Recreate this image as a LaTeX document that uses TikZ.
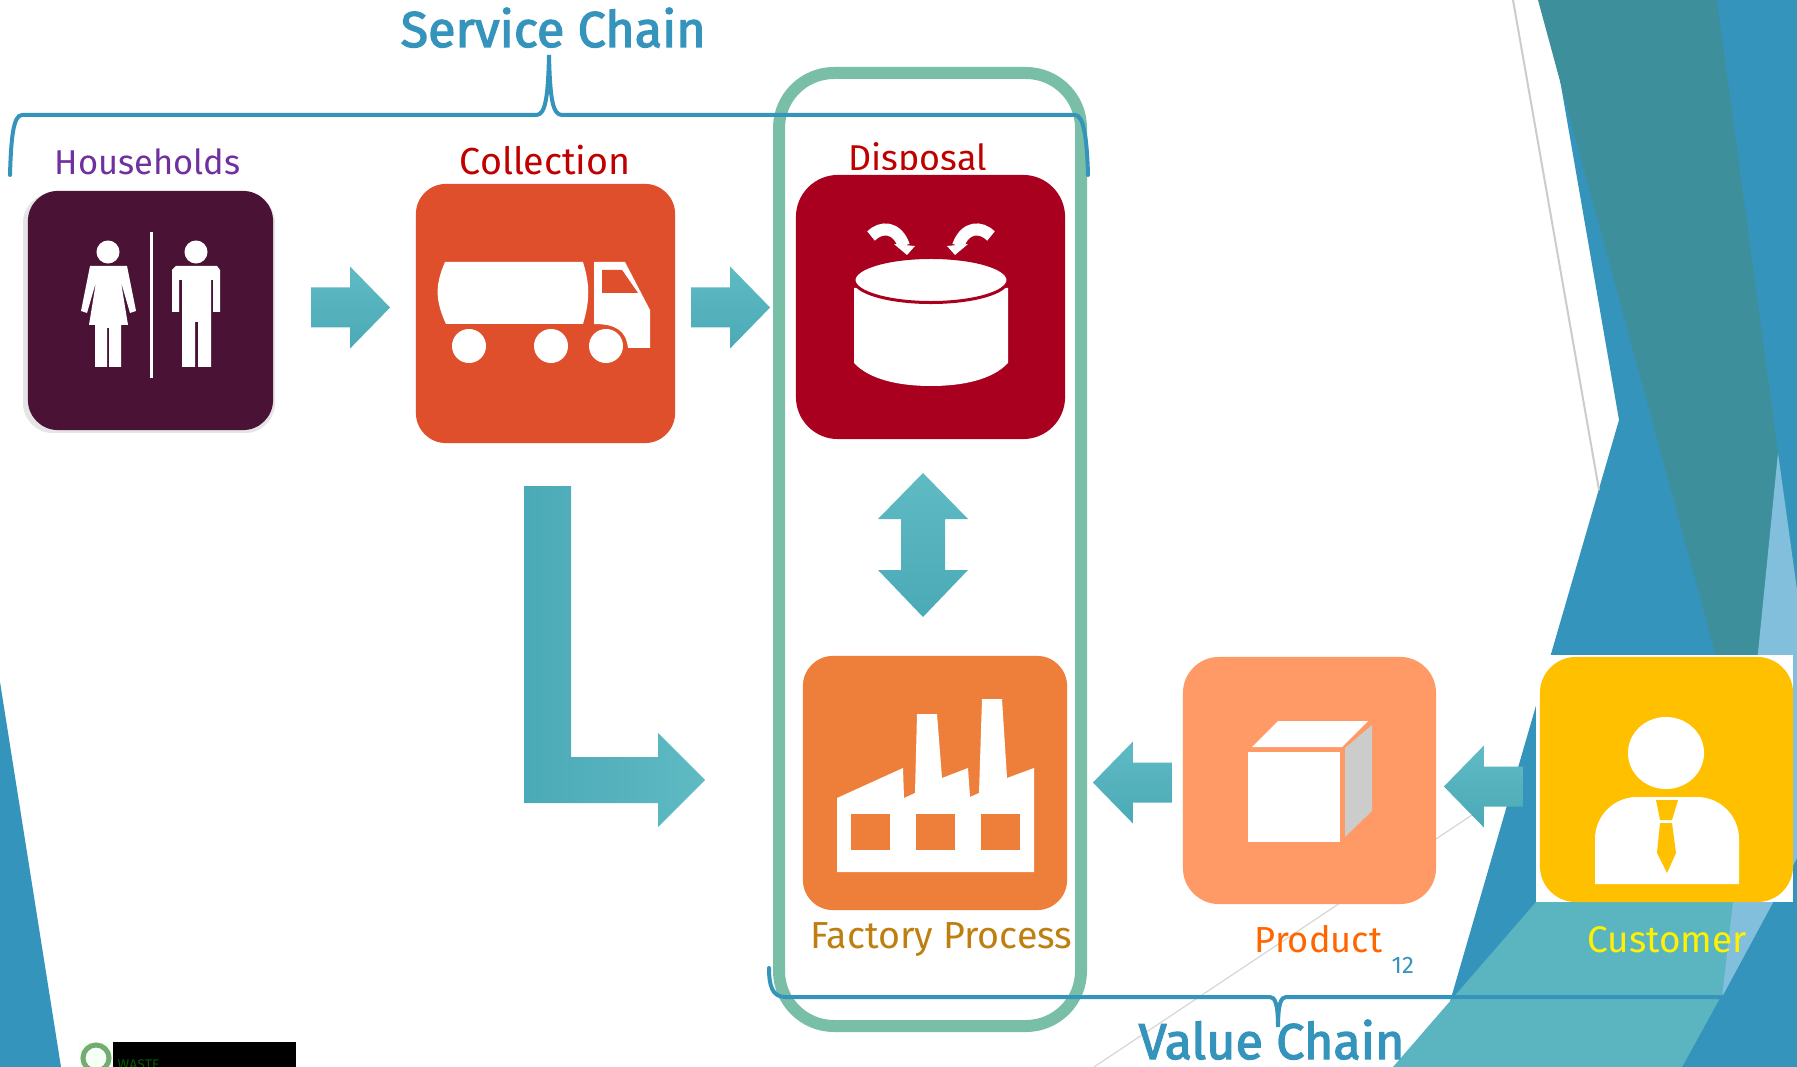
\documentclass[tikz,border=0pt]{standalone}
\usepackage{fontspec}
\setmainfont{Fira Sans}
\newfontfamily\chainfont[FakeBold=2.5]{Fira Sans}
\usetikzlibrary{calc}

\definecolor{chainblue}{HTML}{3594BC}
\definecolor{deepteal}{HTML}{3E8F9C}
\definecolor{paleblue}{HTML}{82BFDC}
\definecolor{softteal}{HTML}{5AB5C1}
\definecolor{framegreen}{HTML}{79BFA8}
\definecolor{plumbox}{HTML}{4A1336}
\definecolor{truckbox}{HTML}{E04F2B}
\definecolor{binbox}{HTML}{A8001E}
\definecolor{millbox}{HTML}{ED7F3B}
\definecolor{cratebox}{HTML}{FF9966}
\definecolor{buyerbox}{HTML}{FFC000}
\definecolor{blockteal}{HTML}{4BAAB7}
\definecolor{blocktop}{HTML}{5FBAC3}
\definecolor{lblpurple}{HTML}{7030A0}
\definecolor{lblred}{HTML}{C00000}
\definecolor{lblochre}{HTML}{BF7F10}
\definecolor{lblorange}{HTML}{FF6600}

\tikzset{
  iconbox/.style={rounded corners=#1,inner sep=0pt,outer sep=0pt},
  iconbox/.default=.3cm,
  lbl/.style={anchor=base west,inner sep=0pt},
  lblsmall/.style={lbl,font=\fontsize{#1}{12}\selectfont},
  lblbig/.style={lbl,font=\fontsize{14.3}{16}\chainfont,text=chainblue},
  arrowshade/.style={top color=blocktop,bottom color=blockteal},
  brace/.style={chainblue,line width=.04cm,line cap=round},
}

\begin{document}
\begin{tikzpicture}[x=.01cm,y=-.01cm]
\path[use as bounding box,clip] (0,0) rectangle (1797,1067);
\fill[white] (0,0) rectangle (1797,1067);

\fill[chainblue] (1560,80) -- (1619,420) -- (1431,1067) -- (1797,1067) -- (1797,0) -- (1600,0) -- cycle;
\fill[deepteal] (1538,0) -- (1717,0) -- (1778,453) -- (1758,660) -- (1717,660) -- cycle;
\fill[softteal] (1536,902) -- (1393,1067) -- (1682,1067) -- (1773,902) -- cycle;
\fill[paleblue] (1778,453) -- (1797,590) -- (1797,858) -- (1722,997) -- (1733,902) -- cycle;
\fill[chainblue] (0,682) -- (61,1067) -- (0,1067) -- cycle;
\draw[black!20,line width=.02cm] (1513,0) -- (1599,490);
\draw[black!16,line width=.012cm] (1094,1067) -- (1478,811);

\fill[black] (113,1042) rectangle (296,1067);
\fill[green!4] (79,1042) rectangle (113,1067);
\draw[green!40!black!55,line width=.05cm] (96,1058) circle [radius=.13cm];
\node[lbl,text=green!35!black,font=\fontsize{4}{5}\selectfont] (logotext) at (117,1069) {WASTE};

\draw[framegreen,line width=.12cm,rounded corners=.55cm] (779,73) rectangle (1081,1026);

\node[lblbig] (servicelbl) at (400,47) {Service Chain};
\node[lblsmall=9.8,text=lblpurple] (householdslbl) at (54,175) {Households};
\node[lblsmall=10.7,text=lblred] (collectionlbl) at (459,175) {Collection};
\node[lblsmall=10.2,text=lblred] (disposallbl) at (848,171) {Disposal};

\fill[black!10,rounded corners=.3cm] (23,193) rectangle (275,433);
\node[iconbox,fill=plumbox,minimum width=2.45cm,minimum height=2.39cm] (households) at (150.5,310.5) {};
\fill[white] (108,252) circle [radius=.115cm];
\fill[white] (196,252) circle [radius=.115cm];
\fill[white] (150,232) rectangle (153,378);
\fill[white] (90,266) -- (127,266) -- (136,311) -- (130,313) -- (121,282) -- (128,325) -- (121,325) -- (121,367) -- (109,367) -- (109,328) -- (107,328) -- (107,367) -- (95,367) -- (95,325) -- (89,325) -- (96,282) -- (87,313) -- (81,311) -- cycle;
\fill[white] (176,266) -- (217,266) -- (220,270) -- (220,312) -- (213,312) -- (213,280) -- (211,280) -- (211,367) -- (198,367) -- (198,322) -- (195,322) -- (195,367) -- (182,367) -- (182,280) -- (179,280) -- (179,312) -- (172,312) -- (172,270) -- cycle;

\node[iconbox,fill=truckbox,minimum width=2.59cm,minimum height=2.59cm] (collection) at (545.5,313.5) {};
\fill[white] (445,262) -- (583,262) .. controls (590,285) and (590,300) .. (583,324) -- (446,324) .. controls (435,300) and (435,285) .. (445,262) -- cycle;
\fill[white] (594,262) -- (625,262) -- (650,310) -- (650,348) -- (628,348) .. controls (626,330) and (615,324) .. (594,324) -- cycle;
\fill[truckbox] (602,270) -- (622,270) -- (638,293) -- (602,293) -- cycle;
\foreach \wx in {469,551,606}
  \fill[white] (\wx,346) circle [radius=.17cm];

\fill[white] (793,170) rectangle (1069,441);
\node[iconbox=.42cm,fill=binbox,minimum width=2.69cm,minimum height=2.64cm] (disposal) at (930.5,307) {};
\fill[white] (854,288) -- (854,363) .. controls (870,380) and (900,386) .. (931,386) .. controls (962,386) and (992,380) .. (1008,363) -- (1008,288) -- cycle;
\draw[binbox,fill=white,line width=.03cm] (931,280) ellipse [x radius=.77cm,y radius=.225cm];
\foreach \sx in {1,-1} {
  \draw[white,line width=.12cm] ({931-\sx*60},236) .. controls ({931-\sx*50},226) and ({931-\sx*34},226) .. ({931-\sx*27},246);
  \fill[white] ({931-\sx*37},244) -- ({931-\sx*16},246) -- ({931-\sx*24},255) -- cycle;
}

\node[iconbox,fill=millbox,minimum width=2.64cm,minimum height=2.54cm] (factory) at (935,783) {};
\fill[white] (837,798) -- (903,768) -- (904,798) -- (915,793) -- (917,714) -- (937,714) -- (942,778) -- (968,768) -- (970,797) -- (979,793) -- (982,699) -- (1002,699) -- (1007,778) -- (1034,768) -- (1034,872) -- (837,872) -- cycle;
\foreach \wx in {851,916,981}
  \fill[millbox] (\wx,814) rectangle ++(39,36);
\node[lblsmall=10.7,text=lblochre] (factorylbl) at (810,948) {Factory Process};

\node[iconbox=.36cm,fill=cratebox,minimum width=2.53cm,minimum height=2.47cm] (product) at (1309.5,780.5) {};
\fill[white] (1248,752) rectangle (1340,842);
\fill[white] (1252,747) -- (1278,721) -- (1368,721) -- (1342,747) -- cycle;
\fill[black!20] (1345,748) -- (1372,725) -- (1372,811) -- (1345,837) -- cycle;
\node[lblsmall=10.3,text=lblorange] (productlbl) at (1254,952) {Product};
\node[lbl,text=chainblue,font=\fontsize{6.8}{8}\selectfont] (pagelbl) at (1391,973) {12};

\fill[white] (1536,655) rectangle (1793,902);
\node[iconbox=.36cm,fill=buyerbox,minimum width=2.53cm,minimum height=2.45cm] (customer) at (1666.5,779.5) {};
\fill[white] (1666,753) ellipse [x radius=.38cm,y radius=.36cm];
\fill[white] (1595,884) [rounded corners=.42cm] -- (1595,797) -- (1739,797) [sharp corners] -- (1739,884) -- cycle;
\fill[buyerbox] (1656,800) -- (1678,800) -- (1672,820) -- (1660,820) -- cycle;
\fill[buyerbox] (1660,823) -- (1672,823) -- (1676,853) -- (1667,873) -- (1657,853) -- cycle;
\node[lblsmall=10.5,text=yellow] (customerlbl) at (1587,952) {Customer};

\foreach \from/\anc/\gap/\dy/\ad in {households/east/38/-3/1,collection/east/16/-6/1,product/west/-11/2/-1,customer/west/-17/7/-1} {
  \coordinate (tail) at ($(\from.\anc)+(\gap,\dy)$);
  \shade[arrowshade] (tail) ++(0,-20) -- ++({\ad*39},0) -- ++(0,-21) -- ++({\ad*40},41) -- ++({-\ad*40},41) -- ++(0,-21) -- ++({-\ad*39},0) -- cycle;
}
\shade[arrowshade] (923,473) -- (968,519) -- (945,519) -- (945,570) -- (968,570) -- (923,617) -- (878,570) -- (901,570) -- (901,519) -- (878,519) -- cycle;
\shade[left color=blockteal,right color=blocktop] (524,486) -- (571,486) -- (571,757) -- (658,757) -- (658,733) -- (705,780) -- (658,827) -- (658,803) -- (524,803) -- cycle;

\draw[brace] (10,175) .. controls (11,140) and (13,115) .. (22,115) -- (536,115) .. controls (545,115) and (548,100) .. (549,55) .. controls (550,100) and (553,115) .. (562,115) -- (1075,115) .. controls (1084,115) and (1087,140) .. (1088,175);
\draw[brace] (769,968) .. controls (769,985) and (772,997) .. (785,997) -- (1270,997) .. controls (1275,997) and (1278,1004) .. (1278,1027) .. controls (1278,1004) and (1281,997) .. (1286,997) -- (1722,997);
\node[lblbig] (valuelbl) at (1138,1059) {Value Chain};
\end{tikzpicture}
\end{document}
